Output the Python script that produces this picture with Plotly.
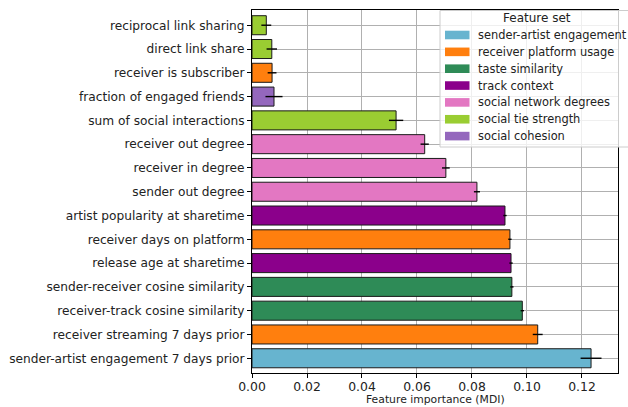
import plotly.graph_objects as go

# Features listed bottom-to-top on the y axis
features = [
    "sender-artist engagement 7 days prior",
    "receiver streaming 7 days prior",
    "receiver-track cosine similarity",
    "sender-receiver cosine similarity",
    "release age at sharetime",
    "receiver days on platform",
    "artist popularity at sharetime",
    "sender out degree",
    "receiver in degree",
    "receiver out degree",
    "sum of social interactions",
    "fraction of engaged friends",
    "receiver is subscriber",
    "direct link share",
    "reciprocal link sharing",
]
importance = [0.1233, 0.1039, 0.0983, 0.0945, 0.0942, 0.0938, 0.0920,
              0.0818, 0.0705, 0.0628, 0.0524, 0.0080, 0.0073, 0.0072, 0.0052]
importance_std = [0.0038, 0.0018, 0.0006, 0.0006, 0.0006, 0.0006, 0.0006,
                  0.0011, 0.0014, 0.0015, 0.0026, 0.0031, 0.0016, 0.0019, 0.0018]
feature_set = [
    "sender-artist engagement", "receiver platform usage", "taste similarity",
    "taste similarity", "track context", "receiver platform usage", "track context",
    "social network degrees", "social network degrees", "social network degrees",
    "social tie strength", "social cohesion", "receiver platform usage",
    "social tie strength", "social tie strength",
]

set_names = ["sender-artist engagement", "receiver platform usage", "taste similarity",
             "track context", "social network degrees", "social tie strength",
             "social cohesion"]
set_colors = ["#67b4cf", "#ff7f0e", "#2e8b57", "#8b008b", "#e377c2", "#9acd32", "#9467bd"]

W, H = 628, 407
M_L, M_R, M_T, M_B = 252, 10, 10, 34
PW, PH = W - M_L - M_R, H - M_T - M_B


def px_x(px):
    """Pixel column -> paper x."""
    return (px - M_L) / PW


def px_y(py):
    """Pixel row (from top) -> paper y."""
    return (H - M_B - py) / PH


fig = go.Figure()
for name, color in zip(set_names, set_colors):
    idx = [i for i, s in enumerate(feature_set) if s == name]
    fig.add_trace(go.Bar(
        y=[features[i] for i in idx],
        x=[importance[i] for i in idx],
        orientation="h",
        name=name,
        width=0.8,
        showlegend=False,
        marker=dict(color=color, line=dict(color="#1a1a1a", width=1)),
        error_x=dict(type="data", array=[importance_std[i] for i in idx],
                     color="black", thickness=1.4, width=0),
    ))

font = "DejaVu Sans, Verdana, sans-serif"

# Legend panel (drawn by hand so its size and row spacing can be controlled)
shapes = [dict(type="rect", xref="paper", yref="paper",
               x0=px_x(440), x1=px_x(634), y0=px_y(147), y1=px_y(10.5),
               fillcolor="rgba(255,255,255,0.8)", line=dict(color="#cccccc", width=1),
               layer="above")]
annotations = [dict(text="Feature set", xref="paper", yref="paper",
                    x=px_x(537), y=px_y(18.5), xanchor="center", yanchor="middle",
                    showarrow=False, font=dict(family=font, size=12, color="#222222"))]
row0, row_step = 35.0, 16.85
for k, (name, color) in enumerate(zip(set_names, set_colors)):
    cy = row0 + k * row_step
    shapes.append(dict(type="rect", xref="paper", yref="paper",
                       x0=px_x(445), x1=px_x(469.5), y0=px_y(cy + 4.3), y1=px_y(cy - 4.3),
                       fillcolor=color, line=dict(width=0), layer="above"))
    annotations.append(dict(text=name, xref="paper", yref="paper",
                            x=px_x(476), y=px_y(cy), xanchor="left", yanchor="middle",
                            showarrow=False,
                            font=dict(family=font, size=11.4, color="#222222")))

# x-axis title
annotations.append(dict(text="Feature importance (MDI)", xref="paper", yref="paper",
                        x=0.5, y=px_y(399), xanchor="center", yanchor="middle",
                        showarrow=False, font=dict(family=font, size=10.8, color="#222222")))

fig.update_layout(
    width=W, height=H,
    margin=dict(l=M_L, r=M_R, t=M_T, b=M_B, autoexpand=False),
    paper_bgcolor="white", plot_bgcolor="white",
    barmode="overlay",
    font=dict(family=font, size=12.2, color="#222222"),
    showlegend=False,
    shapes=shapes,
    annotations=annotations,
    xaxis=dict(
        range=[0, 0.1331], tickvals=[0, 0.02, 0.04, 0.06, 0.08, 0.10, 0.12],
        tickformat=".2f", showgrid=True, gridcolor="#b0b0b0", gridwidth=1,
        zeroline=False, showline=True, linecolor="black", linewidth=1, mirror=True,
        ticks="outside", ticklen=4, tickcolor="black", layer="above traces",
        ticklabelstandoff=-2, tickfont=dict(size=12.4),
    ),
    yaxis=dict(
        type="category", categoryorder="array", categoryarray=features,
        range=[-0.62, 14.64], showgrid=True, gridcolor="#b0b0b0", gridwidth=1,
        showline=True, linecolor="black", linewidth=1, mirror=True,
        ticks="outside", ticklen=4, tickcolor="black", layer="above traces",
    ),
)

fig.write_html("out.html")
